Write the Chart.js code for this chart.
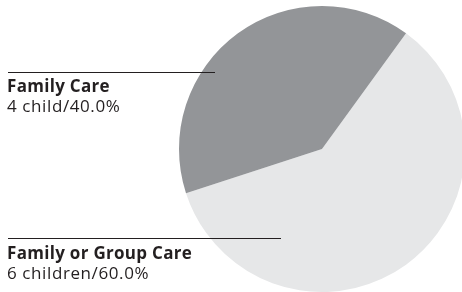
<!DOCTYPE html>
<html>
<head>
<meta charset="utf-8">
<script src="https://cdn.jsdelivr.net/npm/chart.js@4/dist/chart.umd.min.js"></script>
<style>
  html, body { margin: 0; padding: 0; background: #fff; overflow: hidden; }
  #wrap { width: 462px; height: 292px; overflow: hidden; }
</style>
</head>
<body>
<div id="wrap"><canvas id="pieChart" width="470" height="292"></canvas></div>
<script>
// data
const categories = ['Family or Group Care', 'Family Care'];
const children = [6, 4];
const childWord = ['children', 'child'];
const colors = ['#e6e7e8', '#939598'];

const total = children.reduce((a, b) => a + b, 0);

// label blocks: where the text sits and where the leader line ends
const labelSpots = [
    { x: 7, y: 259, lineY: 238, lineEnd: 281 },
    { x: 7, y: 92, lineY: 72, lineEnd: 215 },
];

const labelPlugin = {
    id: 'sideLabels',
    afterDraw(chart) {
        const ctx = chart.ctx;
        ctx.save();
        categories.forEach((name, i) => {
            const s = labelSpots[i];
            const pct = (children[i] / total * 100).toFixed(1) + '%';
            ctx.strokeStyle = '#231f20';
            ctx.lineWidth = 1;
            ctx.beginPath();
            ctx.moveTo(8, s.lineY + 0.5);
            ctx.lineTo(s.lineEnd, s.lineY + 0.5);
            ctx.stroke();
            ctx.fillStyle = '#231f20';
            ctx.textBaseline = 'alphabetic';
            ctx.font = 'bold 17px "Open Sans"';
            ctx.letterSpacing = '0.3px';
            ctx.fillText(name, s.x, s.y);
            ctx.font = '17px "Open Sans"';
            ctx.letterSpacing = '0.6px';
            ctx.fillText(children[i] + ' ' + childWord[i] + '/' + pct, s.x, s.y + 19.5);
        });
        ctx.restore();
    }
};

const ctx = document.getElementById('pieChart').getContext('2d');
const pieChart = new Chart(ctx, {
    type: 'pie',
    data: {
        labels: categories,
        datasets: [{
            data: children,
            backgroundColor: colors,
            borderWidth: 0,
        }],
    },
    options: {
        responsive: false,
        animation: false,
        rotation: 36,
        layout: {
            padding: { left: 179, right: 5, top: 6, bottom: 0 },
        },
        plugins: {
            legend: { display: false },
            tooltip: { enabled: false },
        },
    },
    plugins: [labelPlugin],
});
</script>
</body>
</html>
